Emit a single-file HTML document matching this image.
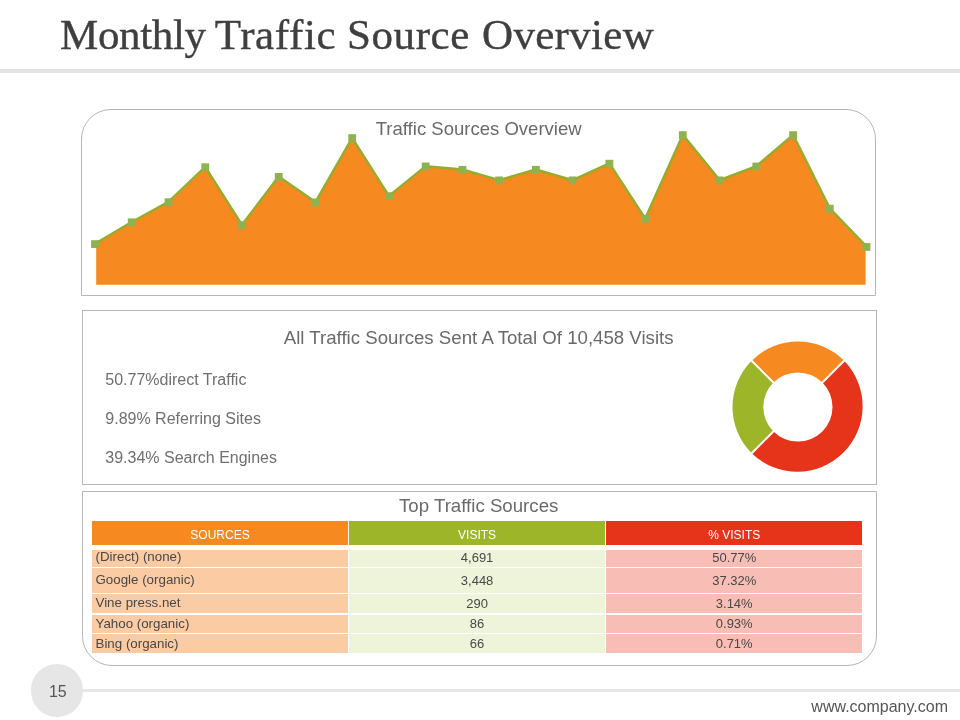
<!DOCTYPE html>
<html><head><meta charset="utf-8"><title>Monthly Traffic Source Overview</title>
<style>
html,body{margin:0;padding:0;}
body{width:960px;height:720px;position:relative;overflow:hidden;background:#fff;font-family:"Liberation Sans",Arial,sans-serif;color:#6a6a6a;}
.abs{position:absolute;white-space:nowrap;}
#title{left:60px;top:9.2px;font-family:"Liberation Serif",serif;font-size:43px;line-height:52px;color:#3f3f3f;letter-spacing:0.3px;-webkit-text-stroke:0.4px #3f3f3f;}
#rule{left:0;top:69px;width:960px;height:4px;background:#e3e3e3;}
.box{position:absolute;left:82px;width:793px;border:1px solid #b6b6b6;box-sizing:content-box;}
#b1{left:81px;top:109px;height:185px;border-radius:30px 30px 0 0;}
#b2{top:310px;height:173px;}
#b3{top:491px;height:173px;border-radius:0 0 30px 30px;}
#t1{left:375.7px;top:118.2px;font-size:18.55px;line-height:22px;}
#t2{left:283.7px;top:326.8px;font-size:18.67px;line-height:22px;}
#t3{left:399px;top:495.1px;font-size:18.67px;line-height:22px;}
.li{left:105.3px;font-size:16px;line-height:20px;color:#6f6f6f;}
#chart{position:absolute;left:0;top:0;}
.cell{position:absolute;font-size:13.33px;line-height:16px;color:#484848;white-space:nowrap;}
.h{color:#fff;font-size:12px;text-align:center;}
.c{text-align:center;font-size:13px;}
.c1{left:92px;width:256px;} .c2{left:349px;width:256px;} .c3{left:606px;width:256px;}
.bg{position:absolute;}
#circ{left:31.2px;top:664.4px;width:52.2px;height:52.2px;border-radius:50%;background:#e6e6e6;}
#pn{left:31.3px;top:664.7px;width:53px;text-align:center;font-size:16px;line-height:54px;color:#555;}
#fline{left:80px;top:689.2px;width:880px;height:2.8px;background:#e6e6e6;}
#url{right:12px;top:695.8px;font-size:16px;line-height:22px;color:#555;}
</style></head><body>
<div class="abs" id="title"><span style="letter-spacing:-0.35px">Monthly</span> <span style="letter-spacing:0.65px;margin-left:-2px">Traffic</span> <span style="letter-spacing:0.55px;margin-left:-0.35px">Source</span> <span style="margin-left:1.2px">Overview</span></div>
<div class="abs" id="rule"></div>
<div class="box" id="b1"></div>
<div class="box" id="b2"></div>
<div class="box" id="b3"></div>
<svg id="chart" width="960" height="720" viewBox="0 0 960 720">
<polygon points="96.2,284.7 96.20,243.8 132.84,222 169.48,201.9 206.11,166.9 242.75,224.8 279.39,176.6 316.03,202.1 352.67,137.8 389.30,195.9 425.94,166.1 462.58,169.5 499.22,180.1 535.86,169.5 572.49,180.1 609.13,163.4 645.77,218.4 682.41,134.8 719.05,180.1 755.68,166.2 792.32,134.8 828.96,208.4 865.60,246.6 865.60,284.7" fill="#f6891f"/>
<polyline points="95.00,243.8 131.74,222 168.48,201.9 205.22,166.9 241.96,224.8 278.70,176.6 315.44,202.1 352.18,137.8 388.92,195.9 425.66,166.1 462.40,169.5 499.14,180.1 535.88,169.5 572.62,180.1 609.36,163.4 645.20,218.4 682.84,134.8 719.58,180.1 756.32,166.2 793.06,134.8 829.80,208.4 866.54,246.6" fill="none" stroke="#95ac2c" stroke-width="2.4" stroke-linejoin="round"/>
<rect x="91.1" y="240.2" width="7.8" height="7.8" fill="#8fb250"/><rect x="127.8" y="218.4" width="7.8" height="7.8" fill="#8fb250"/><rect x="164.6" y="198.3" width="7.8" height="7.8" fill="#8fb250"/><rect x="201.3" y="163.3" width="7.8" height="7.8" fill="#8fb250"/><rect x="238.1" y="221.2" width="7.8" height="7.8" fill="#8fb250"/><rect x="274.8" y="173.0" width="7.8" height="7.8" fill="#8fb250"/><rect x="311.5" y="198.5" width="7.8" height="7.8" fill="#8fb250"/><rect x="348.3" y="134.2" width="7.8" height="7.8" fill="#8fb250"/><rect x="385.0" y="192.3" width="7.8" height="7.8" fill="#8fb250"/><rect x="421.8" y="162.5" width="7.8" height="7.8" fill="#8fb250"/><rect x="458.5" y="165.9" width="7.8" height="7.8" fill="#8fb250"/><rect x="495.2" y="176.5" width="7.8" height="7.8" fill="#8fb250"/><rect x="532.0" y="165.9" width="7.8" height="7.8" fill="#8fb250"/><rect x="568.7" y="176.5" width="7.8" height="7.8" fill="#8fb250"/><rect x="605.5" y="159.8" width="7.8" height="7.8" fill="#8fb250"/><rect x="641.3" y="214.8" width="7.8" height="7.8" fill="#8fb250"/><rect x="678.9" y="131.2" width="7.8" height="7.8" fill="#8fb250"/><rect x="715.7" y="176.5" width="7.8" height="7.8" fill="#8fb250"/><rect x="752.4" y="162.6" width="7.8" height="7.8" fill="#8fb250"/><rect x="789.2" y="131.2" width="7.8" height="7.8" fill="#8fb250"/><rect x="825.9" y="204.8" width="7.8" height="7.8" fill="#8fb250"/><rect x="862.6" y="243.0" width="7.8" height="7.8" fill="#8fb250"/>
<path d="M751.66,360.76 A65.4,65.4 0 0 1 844.14,360.76 L822.37,382.53 A34.6,34.6 0 0 0 773.43,382.53 Z" fill="#f6891f"/><path d="M844.14,360.76 A65.4,65.4 0 0 1 751.66,453.24 L773.43,431.47 A34.6,34.6 0 0 0 822.37,382.53 Z" fill="#e5341a"/><path d="M751.66,453.24 A65.4,65.4 0 0 1 751.66,360.76 L773.43,382.53 A34.6,34.6 0 0 0 773.43,431.47 Z" fill="#9db529"/><line x1="821.66" y1="383.24" x2="844.85" y2="360.05" stroke="#fff" stroke-width="2"/><line x1="774.14" y1="430.76" x2="750.95" y2="453.95" stroke="#fff" stroke-width="2"/><line x1="774.14" y1="383.24" x2="750.95" y2="360.05" stroke="#fff" stroke-width="2"/>
</svg>
<div class="abs" id="t1">Traffic Sources Overview</div>
<div class="abs" id="t2">All Traffic Sources Sent A Total Of 10,458 Visits</div>
<div class="abs li" style="top:370px">50.77%direct Traffic</div>
<div class="abs li" style="top:408.5px">9.89% Referring Sites</div>
<div class="abs li" style="top:447.5px">39.34% Search Engines</div>
<div class="abs" id="t3">Top Traffic Sources</div>
<div class="bg" style="left:92.3px;top:521px;width:255.4px;height:24px;background:#f6891f"></div>
<div class="cell h" style="left:92.3px;width:255.4px;top:526.55px">SOURCES</div>
<div class="bg" style="left:92.3px;top:549.5px;width:255.4px;height:17.5px;background:#fbcba4"></div>
<div class="cell" style="left:95.5px;top:549.48px">(Direct) (none)</div>
<div class="bg" style="left:92.3px;top:568.2px;width:255.4px;height:24.8px;background:#fbcba4"></div>
<div class="cell" style="left:95.5px;top:572.38px">Google (organic)</div>
<div class="bg" style="left:92.3px;top:594.2px;width:255.4px;height:19.2px;background:#fbcba4"></div>
<div class="cell" style="left:95.5px;top:595.18px">Vine press.net</div>
<div class="bg" style="left:92.3px;top:614.6px;width:255.4px;height:18.2px;background:#fbcba4"></div>
<div class="cell" style="left:95.5px;top:615.88px">Yahoo (organic)</div>
<div class="bg" style="left:92.3px;top:634.0px;width:255.4px;height:19.0px;background:#fbcba4"></div>
<div class="cell" style="left:95.5px;top:635.88px">Bing (organic)</div>
<div class="bg" style="left:349.2px;top:521px;width:255.8px;height:24px;background:#9db529"></div>
<div class="cell h" style="left:349.2px;width:255.8px;top:526.55px">VISITS</div>
<div class="bg" style="left:349.2px;top:549.5px;width:255.8px;height:17.5px;background:#eef4d9"></div>
<div class="cell c" style="left:349.2px;width:255.8px;top:549.99px">4,691</div>
<div class="bg" style="left:349.2px;top:568.2px;width:255.8px;height:24.8px;background:#eef4d9"></div>
<div class="cell c" style="left:349.2px;width:255.8px;top:572.59px">3,448</div>
<div class="bg" style="left:349.2px;top:594.2px;width:255.8px;height:19.2px;background:#eef4d9"></div>
<div class="cell c" style="left:349.2px;width:255.8px;top:595.59px">290</div>
<div class="bg" style="left:349.2px;top:614.6px;width:255.8px;height:18.2px;background:#eef4d9"></div>
<div class="cell c" style="left:349.2px;width:255.8px;top:616.49px">86</div>
<div class="bg" style="left:349.2px;top:634.0px;width:255.8px;height:19.0px;background:#eef4d9"></div>
<div class="cell c" style="left:349.2px;width:255.8px;top:636.49px">66</div>
<div class="bg" style="left:606.2px;top:521px;width:256.1px;height:24px;background:#e5341a"></div>
<div class="cell h" style="left:606.2px;width:256.1px;top:526.55px">% VISITS</div>
<div class="bg" style="left:606.2px;top:549.5px;width:256.1px;height:17.5px;background:#f8beb5"></div>
<div class="cell c" style="left:606.2px;width:256.1px;top:549.99px">50.77%</div>
<div class="bg" style="left:606.2px;top:568.2px;width:256.1px;height:24.8px;background:#f8beb5"></div>
<div class="cell c" style="left:606.2px;width:256.1px;top:572.59px">37.32%</div>
<div class="bg" style="left:606.2px;top:594.2px;width:256.1px;height:19.2px;background:#f8beb5"></div>
<div class="cell c" style="left:606.2px;width:256.1px;top:595.59px">3.14%</div>
<div class="bg" style="left:606.2px;top:614.6px;width:256.1px;height:18.2px;background:#f8beb5"></div>
<div class="cell c" style="left:606.2px;width:256.1px;top:616.49px">0.93%</div>
<div class="bg" style="left:606.2px;top:634.0px;width:256.1px;height:19.0px;background:#f8beb5"></div>
<div class="cell c" style="left:606.2px;width:256.1px;top:636.49px">0.71%</div>
<div class="abs" id="fline"></div>
<div class="abs" id="circ"></div>
<div class="abs" id="pn">15</div>
<div class="abs" id="url">www.company.com</div>
</body></html>
